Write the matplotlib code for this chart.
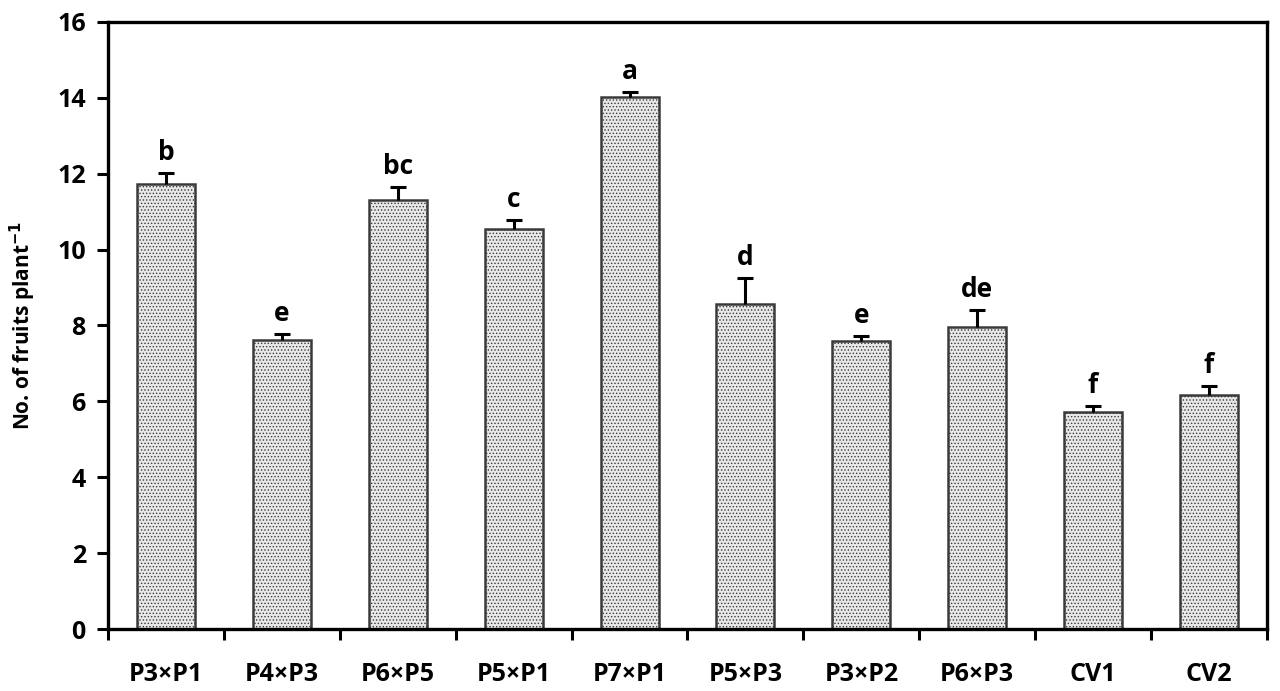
import matplotlib
matplotlib.use("Agg")
import matplotlib.pyplot as plt
import numpy as np

plt.rcParams['font.family'] = ['Open Sans', 'DejaVu Sans']
plt.rcParams['font.weight'] = 'bold'
plt.rcParams['mathtext.default'] = 'bf'
plt.rcParams['hatch.color'] = '#cdcdcd'
plt.rcParams['hatch.linewidth'] = 0.6

crosses = ['P3×P1', 'P4×P3', 'P6×P5', 'P5×P1', 'P7×P1',
           'P5×P3', 'P3×P2', 'P6×P3', 'CV1', 'CV2']
fruits = [11.72, 7.62, 11.31, 10.54, 14.02, 8.57, 7.60, 7.97, 5.72, 6.18]
se = [0.31, 0.15, 0.33, 0.25, 0.13, 0.68, 0.12, 0.44, 0.15, 0.22]
letters = ['b', 'e', 'bc', 'c', 'a', 'd', 'e', 'de', 'f', 'f']

fig = plt.figure(figsize=(12.8, 6.91), dpi=100)
ax = fig.add_axes([0.0844, 0.0897, 0.9054, 0.8785])

x = np.arange(len(crosses))
bars = ax.bar(x, fruits, width=0.5, color='#e8e8e8', edgecolor='#3a3a3a',
              linewidth=1.8, hatch='.....', zorder=2)
eb = ax.errorbar(x, fruits, yerr=[np.zeros(len(se)), se], fmt='none',
                 ecolor='black', elinewidth=2.2, capsize=6, capthick=2.2, zorder=3)
# only the upper cap is wanted
eb[1][0].set_visible(False)

for xi, v, e, lab in zip(x, fruits, se, letters):
    ax.annotate(lab, (xi, v + e), xytext=(0, 5), textcoords='offset points',
                ha='center', va='bottom', fontsize=19, fontweight='bold')

ax.set_xlim(-0.5, len(crosses) - 0.5)
ax.set_ylim(0, 16)
ax.set_yticks(np.arange(0, 17, 2))
ax.set_xticks(np.arange(-0.5, len(crosses), 1.0))
ax.set_xticklabels([])
ax.set_xticks(x, minor=True)
ax.set_xticklabels(crosses, minor=True)
ax.tick_params(axis='x', which='minor', length=0, pad=24, labelsize=18)
ax.tick_params(axis='x', which='major', length=8, width=2.2, direction='out')
ax.tick_params(axis='y', length=8, width=2.2, direction='out', labelsize=18, pad=8)

for s in ax.spines.values():
    s.set_linewidth(2.4)

ax.set_ylabel('No. of fruits plant$^{-1}$', fontsize=15,
              fontweight='bold', labelpad=14)

fig.savefig('out.png', dpi=100)
